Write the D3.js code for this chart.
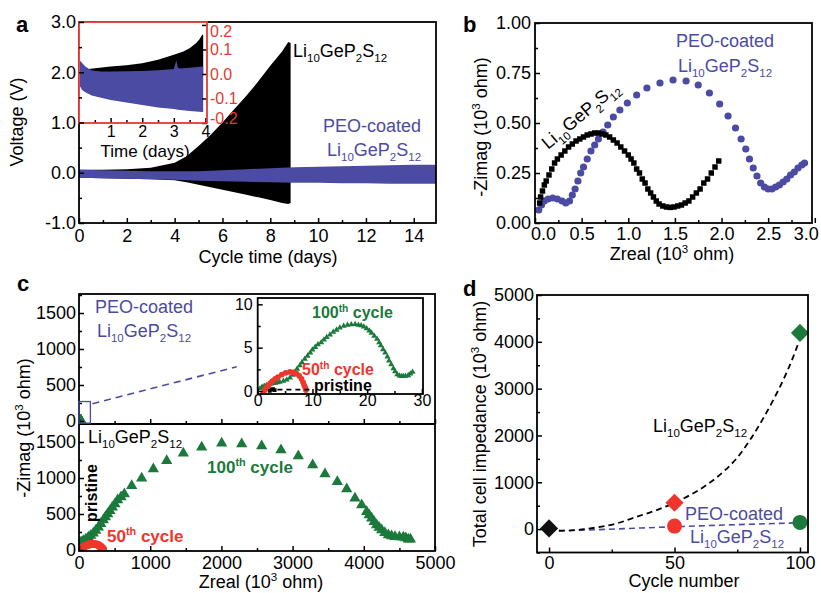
<!DOCTYPE html>
<html>
<head>
<meta charset="utf-8">
<script src="https://cdn.jsdelivr.net/npm/d3@7"></script>
<style>
  body { margin: 0; background: #fff; }
  svg { font-family: "Liberation Sans", Arial, Helvetica, sans-serif; }
  .tick line { stroke: #000; stroke-width: 1.5; }
  .tick text { font-family: "Liberation Sans", Arial, sans-serif; font-size: 18px; fill: #000; }
  .small .tick text { font-size: 16px; }
</style>
</head>
<body>
<div id="chart"></div>
<script>
"use strict";

/******************************** Data ********************************/

// Panel a: voltage envelope of the cycling curves (days, V)
const A_LGPS_DAYS = [0, 1, 2, 3, 4, 4.5, 5, 5.5, 6, 6.5, 7, 7.5, 8, 8.5, 8.75, 8.85];
const A_LGPS_TOP = [0.06, 0.06, 0.07, 0.1, 0.2, 0.33, 0.53, 0.75, 1.0, 1.27, 1.53, 1.82, 2.13, 2.42, 2.6, 2.58];
const A_LGPS_BOT = [-0.1, -0.11, -0.12, -0.13, -0.15, -0.19, -0.24, -0.29, -0.34, -0.39, -0.44, -0.49, -0.54, -0.6, -0.62, -0.6];
const A_PEO_DAYS = [0, 1, 2, 3, 4, 5, 6, 7, 8, 9, 10, 11, 12, 13, 14, 14.93];
const A_PEO_TOP = [0.06, 0.05, 0.04, 0.03, 0.03, 0.03, 0.05, 0.07, 0.09, 0.11, 0.12, 0.13, 0.14, 0.15, 0.16, 0.16];
const A_PEO_BOT = [-0.1, -0.11, -0.12, -0.13, -0.14, -0.16, -0.17, -0.18, -0.19, -0.2, -0.2, -0.21, -0.21, -0.22, -0.22, -0.22];

// Panel a inset: first 4 days (days, V)
const AI_LGPS_DAYS = [0.03, 0.3, 1.0, 1.5, 2.0, 2.5, 3.0, 3.3, 3.5, 3.7, 3.8, 3.9, 3.93];
const AI_LGPS_TOP = [0.02, 0.02, 0.03, 0.036, 0.044, 0.058, 0.078, 0.092, 0.105, 0.125, 0.14, 0.16, 0.16];
const AI_PEO_DAYS = [0.03, 0.1, 0.2, 0.4, 0.7, 1.0, 1.5, 2.0, 2.5, 3.0, 3.08, 3.13, 3.2, 3.5, 3.9, 3.93];
const AI_PEO_TOP = [0.055, 0.045, 0.03, 0.014, 0.01, 0.01, 0.011, 0.012, 0.015, 0.02, 0.055, 0.024, 0.022, 0.025, 0.03, 0.03];
const AI_PEO_BOT = [-0.05, -0.065, -0.075, -0.088, -0.097, -0.106, -0.116, -0.127, -0.137, -0.143, -0.145, -0.146, -0.147, -0.151, -0.155, -0.155];

// Panel b: Nyquist plots before cycling (10^3 ohm)
const B_LGPS_X = [0.05, 0.06, 0.08, 0.10, 0.12, 0.15, 0.18, 0.21, 0.24, 0.28, 0.32, 0.36, 0.40, 0.44, 0.48, 0.52, 0.56, 0.60, 0.64, 0.68, 0.72, 0.76, 0.80, 0.84, 0.88, 0.92, 0.96, 1.00, 1.03, 1.06, 1.09, 1.12, 1.15, 1.18, 1.21, 1.24, 1.27, 1.30, 1.33, 1.37, 1.41, 1.45, 1.49, 1.53, 1.57, 1.61, 1.65, 1.69, 1.73, 1.77, 1.81, 1.85, 1.89, 1.93, 1.97];
const B_LGPS_Y = [0.10, 0.13, 0.16, 0.19, 0.21, 0.24, 0.27, 0.30, 0.32, 0.34, 0.36, 0.38, 0.395, 0.41, 0.42, 0.43, 0.44, 0.445, 0.45, 0.45, 0.445, 0.44, 0.43, 0.415, 0.40, 0.38, 0.36, 0.34, 0.32, 0.30, 0.27, 0.25, 0.22, 0.20, 0.17, 0.15, 0.13, 0.11, 0.095, 0.085, 0.08, 0.078, 0.08, 0.085, 0.09, 0.10, 0.11, 0.13, 0.15, 0.17, 0.20, 0.22, 0.25, 0.28, 0.31];
const B_PEO_X = [0.04, 0.07, 0.10, 0.14, 0.19, 0.24, 0.29, 0.33, 0.37, 0.40, 0.43, 0.46, 0.49, 0.52, 0.56, 0.60, 0.64, 0.68, 0.73, 0.78, 0.84, 0.91, 0.99, 1.09, 1.20, 1.34, 1.48, 1.62, 1.75, 1.87, 1.98, 2.07, 2.15, 2.21, 2.26, 2.30, 2.34, 2.38, 2.42, 2.46, 2.50, 2.54, 2.58, 2.62, 2.66, 2.70, 2.74, 2.78, 2.82, 2.86, 2.89];
const B_PEO_Y = [0.065, 0.09, 0.11, 0.12, 0.125, 0.12, 0.11, 0.10, 0.11, 0.14, 0.17, 0.21, 0.25, 0.28, 0.32, 0.36, 0.39, 0.42, 0.455, 0.49, 0.53, 0.565, 0.60, 0.64, 0.675, 0.70, 0.715, 0.71, 0.69, 0.65, 0.595, 0.535, 0.475, 0.42, 0.37, 0.32, 0.275, 0.235, 0.20, 0.18, 0.17, 0.17, 0.18, 0.19, 0.205, 0.22, 0.24, 0.255, 0.275, 0.29, 0.30];

// Panel c: Li10GeP2S12 cell after cycling (10^3 ohm)
const C_LGPS100_X = [0, 14, 30, 61, 95, 131, 165, 201, 235, 272, 305, 342, 372, 403, 435, 468, 505, 543, 590, 637, 740, 880, 1044, 1232, 1465, 1723, 2004, 2285, 2566, 2837, 3080, 3282, 3455, 3628, 3760, 3876, 3970, 4040, 4075, 4110, 4145, 4180, 4215, 4251, 4295, 4345, 4390, 4438, 4500, 4555, 4590, 4625, 4655];
const C_LGPS100_Y = [50, 93, 110, 129, 150, 176, 200, 232, 270, 315, 365, 417, 460, 500, 545, 593, 640, 694, 735, 778, 893, 995, 1125, 1241, 1343, 1426, 1482, 1472, 1444, 1389, 1306, 1180, 1055, 948, 847, 718, 625, 532, 485, 440, 393, 347, 312, 278, 240, 208, 195, 185, 180, 176, 165, 149, 150];
const C_LGPS50_X = [20, 45, 70, 95, 120, 145, 170, 195, 220, 245, 270, 290, 310, 325, 340];
const C_LGPS50_Y = [8, 28, 45, 58, 68, 76, 82, 85, 83, 78, 68, 56, 40, 24, 8];

// Panel c (upper plot and inset): PEO-coated cell (10^3 ohm)
const C_PEO100_X = [0.42, 0.8, 1.2, 1.6, 2.0, 2.4, 2.8, 3.2, 3.6, 4.0, 4.7, 5.3, 5.9, 6.4, 6.8, 7.2, 7.7, 8.1, 8.6, 9.1, 9.6, 10.0, 10.5, 11.0, 11.6, 12.1, 12.6, 13.2, 13.8, 14.4, 15.0, 15.7, 16.4, 17.1, 17.8, 18.4, 18.9, 19.4, 19.9, 20.4, 20.8, 21.3, 21.8, 22.2, 22.5, 22.9, 23.3, 23.7, 24.0, 24.4, 24.8, 25.1, 25.5, 25.9, 26.3, 26.6, 27.0, 27.5, 27.9, 28.3];
const C_PEO100_Y = [0.28, 0.45, 0.58, 0.66, 0.75, 0.82, 0.88, 0.92, 0.98, 1.05, 1.15, 1.3, 1.53, 1.85, 2.2, 2.55, 2.95, 3.3, 3.7, 4.05, 4.4, 4.75, 5.06, 5.35, 5.6, 5.9, 6.2, 6.5, 6.8, 7.05, 7.3, 7.5, 7.6, 7.68, 7.7, 7.62, 7.55, 7.4, 7.2, 6.95, 6.7, 6.35, 6.0, 5.6, 5.25, 4.8, 4.4, 3.95, 3.5, 3.05, 2.6, 2.25, 1.9, 1.75, 1.7, 1.7, 1.72, 1.8, 2.0, 2.2];
const C_PEO50_X = [1.0, 1.3, 1.6, 1.95, 2.3, 2.7, 3.2, 3.7, 4.4, 5.1, 5.9, 6.5, 7.1, 7.6, 8.0, 8.3, 8.5, 8.7, 8.8];
const C_PEO50_Y = [-0.3, 0.1, 0.4, 0.65, 0.9, 1.15, 1.4, 1.6, 1.9, 2.1, 2.2, 2.15, 2.0, 1.75, 1.4, 1.0, 0.65, 0.35, 0.1];
const C_PEO0_X = [2.2, 2.5, 2.8, 3.1];
const C_PEO0_Y = [0.0, 0.15, 0.2, 0.1];

// Panel d: total cell impedance vs cycle number (10^3 ohm)
const D_LGPS_CYCLES = [0, 50, 100];
const D_LGPS_Z = [15, 563, 4190];
const D_PEO_CYCLES = [50, 100];
const D_PEO_Z = [64, 143];
const D_FIT_LGPS_X = [0, 4.4, 11, 19, 27, 34.9, 42.9, 49.5, 56.2, 62.8, 69.5, 74.8, 80.1, 85.4, 89.4, 93.4, 97.4, 99.4];
const D_FIT_LGPS_Y = [10, -36, -21, 36, 122, 263, 407, 550, 728, 942, 1227, 1514, 1906, 2370, 2762, 3191, 3690, 3976];
const D_FIT_PEO_X = [0, 5, 15, 30, 50, 75, 100];
const D_FIT_PEO_Y = [0, -30, -20, 10, 50, 95, 135];
const CYCLE_COLORS = ["#111111", "#f0362c", "#1b7a3b"];

/******************************** Setup ********************************/

const BLUE = "#4b4ba3";
const GREEN = "#1b7a3b";
const RED = "#f0362c";
const INSET_RED = "#e53a32";

const SVG = d3.select("#chart").append("svg").attr("width", 821).attr("height", 593);
SVG.append("rect").attr("width", 821).attr("height", 593).attr("fill", "#fff");
const DEFS = SVG.append("defs");

// Text with sub (1) and superscript (2) parts
function rich(g, x, y, parts, o) {
  o = o || {};
  const size = o.size || 18;
  const t = g.append("text")
    .attr("font-size", size)
    .attr("fill", o.color || "#000")
    .attr("font-weight", o.bold ? "bold" : null)
    .attr("text-anchor", o.anchor || "start")
    .attr("transform", "translate(" + x + "," + y + ")" + (o.rot ? " rotate(" + o.rot + ")" : ""));
  let cur = 0;
  parts.forEach(function(p) {
    const off = p[1] === 1 ? size * 0.3 : p[1] === 2 ? -size * 0.4 : 0;
    t.append("tspan").attr("dy", off - cur).attr("font-size", p[1] ? size * 0.64 : size).text(p[0]);
    cur = off;
  });
  return t;
}
const LGPS = [["Li", 0], ["10", 1], ["GeP", 0], ["2", 1], ["S", 0], ["12", 1]];
function ohm(pre) {
  return [[pre + " (10", 0], ["3", 2], [" ohm)", 0]];
}

// Inward ticks, major with labels and minor without
function addAxis(g, type, scale, pos, major, minor, fmt, pad, cls) {
  const gen = { bottom: d3.axisBottom, left: d3.axisLeft, right: d3.axisRight }[type];
  const tr = type === "bottom" ? "translate(0," + pos + ")" : "translate(" + pos + ",0)";
  const holder = g.append("g").attr("class", cls || null);
  if (minor) {
    holder.append("g").attr("transform", tr)
      .call(gen(scale).tickValues(minor).tickSize(-3).tickFormat(""))
      .select(".domain").remove();
  }
  const a = holder.append("g").attr("transform", tr)
    .call(gen(scale).tickValues(major).tickSize(-5).tickPadding(pad).tickFormat(fmt || ""));
  a.select(".domain").remove();
  return a;
}

function frame(g, x0, y0, x1, y1, color) {
  g.append("rect").attr("x", x0).attr("y", y0).attr("width", x1 - x0).attr("height", y1 - y0)
    .attr("fill", "none").attr("stroke", color || "#000").attr("stroke-width", 1.8);
}

function clip(id, x0, y0, x1, y1) {
  DEFS.append("clipPath").attr("id", id).append("rect")
    .attr("x", x0).attr("y", y0).attr("width", x1 - x0).attr("height", y1 - y0);
  return "url(#" + id + ")";
}

function band(xs, top, bot, sx, sy) {
  return d3.area()
    .x(function(d, i) { return sx(xs[i]); })
    .y0(function(d, i) { return sy(Array.isArray(bot) ? bot[i] : bot); })
    .y1(function(d, i) { return sy(top[i]); })(xs);
}

function letter(t, x, y) {
  SVG.append("text").attr("x", x).attr("y", y).attr("font-size", 22).attr("font-weight", "bold").text(t);
}

const fix1 = function(d) { return d.toFixed(1); };
const fix2 = function(d) { return d.toFixed(2); };
const range = function(a, b, s) { return d3.range(a, b + s / 2, s); };

/******************************** Panel a ********************************/

const aX = d3.scaleLinear().domain([0, 14.93]).range([79, 436]);
const aY = d3.scaleLinear().domain([-1, 3]).range([223, 22]);
const gA = SVG.append("g");
const gAData = gA.append("g").attr("clip-path", clip("clip-a", 79, 22, 436, 223));
gAData.append("path").attr("d", band(A_LGPS_DAYS, A_LGPS_TOP, A_LGPS_BOT, aX, aY)).attr("fill", "#000");
gAData.append("path").attr("d", band(A_PEO_DAYS, A_PEO_TOP, A_PEO_BOT, aX, aY)).attr("fill", BLUE);
frame(gA, 79, 22, 436, 223);
addAxis(gA, "bottom", aX, 223, range(0, 14, 2), range(1, 13, 2), d3.format("d"), 6);

// Inset
const aiX = d3.scaleLinear().domain([0, 4.05]).range([79, 207]);
const aiY = d3.scaleLinear().domain([-0.2, 0.212]).range([123, 22]);
const gAI = gA.append("g");
gAI.append("rect").attr("x", 79).attr("y", 22).attr("width", 128).attr("height", 101).attr("fill", "#fff");
const gAIData = gAI.append("g").attr("clip-path", clip("clip-ai", 79, 22, 207, 123));
gAIData.append("path").attr("d", band(AI_LGPS_DAYS, AI_LGPS_TOP, 0, aiX, aiY)).attr("fill", "#000");
gAIData.append("path").attr("d", band(AI_PEO_DAYS, AI_PEO_TOP, AI_PEO_BOT, aiX, aiY)).attr("fill", BLUE);
const aiXAxis = addAxis(gAI, "bottom", aiX, 123, [1, 2, 3, 4], [0.5, 1.5, 2.5, 3.5], d3.format("d"), 3);
aiXAxis.selectAll(".tick text").style("font-size", "16px");
const aiYAxis = addAxis(gAI, "right", aiY, 207, [0.2, 0.1, 0, -0.1, -0.2], null, fix1, 3);
aiYAxis.selectAll(".tick text").style("font-size", "16px").style("fill", INSET_RED)
  .attr("dy", function(d) { return d > 0.15 ? "0.7em" : d < -0.15 ? "0.05em" : "0.32em"; });
frame(gAI, 79, 22, 207, 123, INSET_RED);
gAI.append("text").attr("x", 145).attr("y", 157).attr("font-size", 17).attr("text-anchor", "middle").text("Time (days)");

addAxis(gA, "left", aY, 79, range(-1, 3, 1), range(-0.5, 2.5, 1), fix1, 3);

rich(gA, 293, 57, LGPS);
gA.append("text").attr("x", 323).attr("y", 132).attr("font-size", 18).attr("fill", BLUE).text("PEO-coated");
rich(gA, 327, 156, LGPS, { color: BLUE });
gA.append("text").attr("transform", "translate(23,122) rotate(-90)").attr("text-anchor", "middle")
  .attr("font-size", 18).text("Voltage (V)");
gA.append("text").attr("x", 268).attr("y", 263).attr("text-anchor", "middle").attr("font-size", 18).text("Cycle time (days)");
letter("a", 16, 32);

/******************************** Panel b ********************************/

const bX = d3.scaleLinear().domain([0, 2.97]).range([535, 812]);
const bY = d3.scaleLinear().domain([0, 1]).range([223, 23]);
const gB = SVG.append("g");
const gBData = gB.append("g").attr("clip-path", clip("clip-b", 535, 23, 812, 223));
gBData.selectAll("circle").data(B_PEO_X).join("circle")
  .attr("cx", function(d) { return bX(d); })
  .attr("cy", function(d, i) { return bY(B_PEO_Y[i]); })
  .attr("r", 3.6).attr("fill", BLUE);
gBData.selectAll("path.sq").data(B_LGPS_X).join("path").attr("class", "sq")
  .attr("d", d3.symbol(d3.symbolSquare, 30))
  .attr("transform", function(d, i) { return "translate(" + bX(d) + "," + bY(B_LGPS_Y[i]) + ")"; })
  .attr("fill", "#000");
frame(gB, 535, 23, 812, 223);
const bXAxis = addAxis(gB, "bottom", bX, 223, range(0, 3, 0.5), range(0.25, 2.75, 0.5), fix1, 4);
bXAxis.selectAll(".tick text").attr("dx", function(d) { return d === 0 ? 8 : d === 3 ? -9 : 0; });
addAxis(gB, "left", bY, 535, range(0, 1, 0.25), range(0.125, 0.875, 0.25), fix2, 4);

gB.append("text").attr("x", 725).attr("y", 47).attr("text-anchor", "middle").attr("font-size", 18)
  .attr("fill", BLUE).text("PEO-coated");
rich(gB, 725, 72, LGPS, { color: BLUE, anchor: "middle" });
rich(gB, 548, 150, LGPS, { rot: -40 });
rich(gB, 487, 127, ohm("-Zimag"), { rot: -90, anchor: "middle" });
rich(gB, 672, 260, ohm("Zreal"), { anchor: "middle" });
letter("b", 463, 32);

/******************************** Panel c ********************************/

const cX = d3.scaleLinear().domain([0, 5000]).range([79, 435]);
const cYT = d3.scaleLinear().domain([-42, 1764]).range([424, 294]);
const cYB = d3.scaleLinear().domain([-14, 1750]).range([551, 424]);
const gC = SVG.append("g");

function scatter(g, xs, ys, sx, sy, color, shape, size) {
  g.append("g").selectAll("path").data(xs).join("path")
    .attr("d", d3.symbol(shape, size))
    .attr("transform", function(d, i) { return "translate(" + sx(d) + "," + sy(ys[i]) + ")"; })
    .attr("fill", color);
}

// Upper plot: PEO-coated cell at full scale
const gCT = gC.append("g").attr("clip-path", clip("clip-ct", 79, 294, 435, 424));
scatter(gCT, C_PEO50_X, C_PEO50_Y, cX, cYT, RED, d3.symbolCircle, 50);
scatter(gCT, C_PEO100_X, C_PEO100_Y, cX, cYT, GREEN, d3.symbolTriangle, 55);

// Lower plot: Li10GeP2S12 cell
const gCB = gC.append("g").attr("clip-path", clip("clip-cb", 79, 424, 435, 551));
scatter(gCB, C_LGPS100_X, C_LGPS100_Y, cX, cYB, GREEN, d3.symbolTriangle, 55);
scatter(gCB, C_LGPS50_X, C_LGPS50_Y, cX, cYB, RED, d3.symbolCircle, 50);

frame(gC, 79, 294, 435, 551);
gC.append("line").attr("x1", 79).attr("x2", 435).attr("y1", 424).attr("y2", 424)
  .attr("stroke", "#000").attr("stroke-width", 1.8);
addAxis(gC, "bottom", cX, 424, range(0, 5000, 1000), range(500, 4500, 1000), null, 0);
addAxis(gC, "bottom", cX, 551, range(0, 5000, 1000), range(500, 4500, 1000), d3.format("d"), 5);
addAxis(gC, "left", cYT, 79, [0, 500, 1000, 1500], [250, 750, 1250, 1750], d3.format("d"), 3);
addAxis(gC, "left", cYB, 79, [0, 500, 1000, 1500], [250, 750, 1250], d3.format("d"), 3);

// Zoom box and pointer to inset
gC.append("rect").attr("x", cX(0)).attr("y", cYT(270)).attr("width", cX(160) - cX(0))
  .attr("height", cYT(-30) - cYT(270)).attr("fill", "none").attr("stroke", BLUE).attr("stroke-width", 1.3);

// Inset
const ciX = d3.scaleLinear().domain([0, 30.2]).range([257.7, 423]);
const ciY = d3.scaleLinear().domain([-0.35, 10.73]).range([394, 298]);
gC.append("line").attr("x1", cX(160) + 2).attr("y1", cYT(240))
  .attr("x2", ciX(0) - 21).attr("y2", ciY(2.8))
  .attr("stroke", BLUE).attr("stroke-width", 1.6).attr("stroke-dasharray", "7,5");
const gCI = gC.append("g");
gCI.append("rect").attr("x", 257.7).attr("y", 298).attr("width", 165.3).attr("height", 96).attr("fill", "#fff");
const gCIData = gCI.append("g").attr("clip-path", clip("clip-ci", 257.7, 298, 423, 394));
scatter(gCIData, C_PEO100_X, C_PEO100_Y, ciX, ciY, GREEN, d3.symbolTriangle, 16);
scatter(gCIData, C_PEO50_X, C_PEO50_Y, ciX, ciY, RED, d3.symbolCircle, 26);
scatter(gCIData, C_PEO0_X, C_PEO0_Y, ciX, ciY, "#000", d3.symbolSquare, 14);
gCI.append("line").attr("x1", ciX(3.6)).attr("x2", ciX(10.2)).attr("y1", ciY(0.15)).attr("y2", ciY(0.15))
  .attr("stroke", "#000").attr("stroke-width", 1.6).attr("stroke-dasharray", "5,4");
frame(gCI, 257.7, 298, 423, 394);
addAxis(gCI, "bottom", ciX, 394, [0, 10, 20, 30], [5, 15, 25], d3.format("d"), 1, "small");
addAxis(gCI, "left", ciY, 257.7, [0, 5, 10], [2.5, 7.5], d3.format("d"), 5, "small");

rich(gCI, 312, 318, [["100", 0], ["th", 2], [" cycle", 0]], { color: GREEN, bold: true, size: 16 });
rich(gCI, 302, 375, [["50", 0], ["th", 2], [" cycle", 0]], { color: RED, bold: true, size: 16 });
gCI.append("text").attr("x", 314).attr("y", 391).attr("font-size", 16).attr("font-weight", "bold").text("pristine");

gC.append("text").attr("x", 144).attr("y", 313).attr("text-anchor", "middle").attr("font-size", 18)
  .attr("fill", BLUE).text("PEO-coated");
rich(gC, 144, 337, LGPS, { color: BLUE, anchor: "middle" });
rich(gC, 88, 443, LGPS);
rich(gC, 207, 473, [["100", 0], ["th", 2], [" cycle", 0]], { color: GREEN, bold: true, size: 17 });
rich(gC, 107, 542, [["50", 0], ["th", 2], [" cycle", 0]], { color: RED, bold: true, size: 17 });
gC.append("text").attr("transform", "translate(97,493) rotate(-90)").attr("text-anchor", "middle")
  .attr("font-size", 16).attr("font-weight", "bold").text("pristine");
rich(gC, 30, 428, ohm("-Zimag"), { rot: -90, anchor: "middle" });
rich(gC, 261, 588, ohm("Zreal"), { anchor: "middle" });
letter("c", 17, 291);

/******************************** Panel d ********************************/

const dX = d3.scaleLinear().domain([-4.8, 103.2]).range([537, 808]);
const dY = d3.scaleLinear().domain([-500, 5000]).range([552.5, 295]);
const gD = SVG.append("g");
const fitLine = d3.line().curve(d3.curveMonotoneX);
gD.append("path")
  .attr("d", fitLine(D_FIT_PEO_X.map(function(d, i) { return [dX(d), dY(D_FIT_PEO_Y[i])]; })))
  .attr("fill", "none").attr("stroke", BLUE).attr("stroke-width", 1.6).attr("stroke-dasharray", "6,4");
gD.append("path")
  .attr("d", fitLine(D_FIT_LGPS_X.map(function(d, i) { return [dX(d), dY(D_FIT_LGPS_Y[i])]; })))
  .attr("fill", "none").attr("stroke", "#000").attr("stroke-width", 1.8).attr("stroke-dasharray", "6,4");
gD.selectAll("path.dia").data(D_LGPS_CYCLES).join("path").attr("class", "dia")
  .attr("d", d3.symbol(d3.symbolSquare, 165))
  .attr("transform", function(d, i) { return "translate(" + dX(d) + "," + dY(D_LGPS_Z[i]) + ") rotate(45)"; })
  .attr("fill", function(d, i) { return CYCLE_COLORS[i]; });
gD.selectAll("circle").data(D_PEO_CYCLES).join("circle")
  .attr("cx", function(d) { return dX(d); })
  .attr("cy", function(d, i) { return dY(D_PEO_Z[i]); })
  .attr("r", 7.5)
  .attr("fill", function(d, i) { return CYCLE_COLORS[i + 1]; });
frame(gD, 537, 295, 808, 552.5);
addAxis(gD, "bottom", dX, 552.5, [0, 50, 100], [25, 75], d3.format("d"), 4);
addAxis(gD, "left", dY, 537, range(0, 5000, 1000), range(-500, 4500, 1000), d3.format("d"), 3);

rich(gD, 653, 432, LGPS);
gD.append("text").attr("x", 685).attr("y", 520).attr("font-size", 18).attr("fill", BLUE).text("PEO-coated");
rich(gD, 690, 543, LGPS, { color: BLUE });
rich(gD, 486, 424, ohm("Total cell impedance"), { rot: -90, anchor: "middle" });
gD.append("text").attr("x", 684).attr("y", 587).attr("text-anchor", "middle").attr("font-size", 18).text("Cycle number");
letter("d", 463, 296);
</script>
</body>
</html>
